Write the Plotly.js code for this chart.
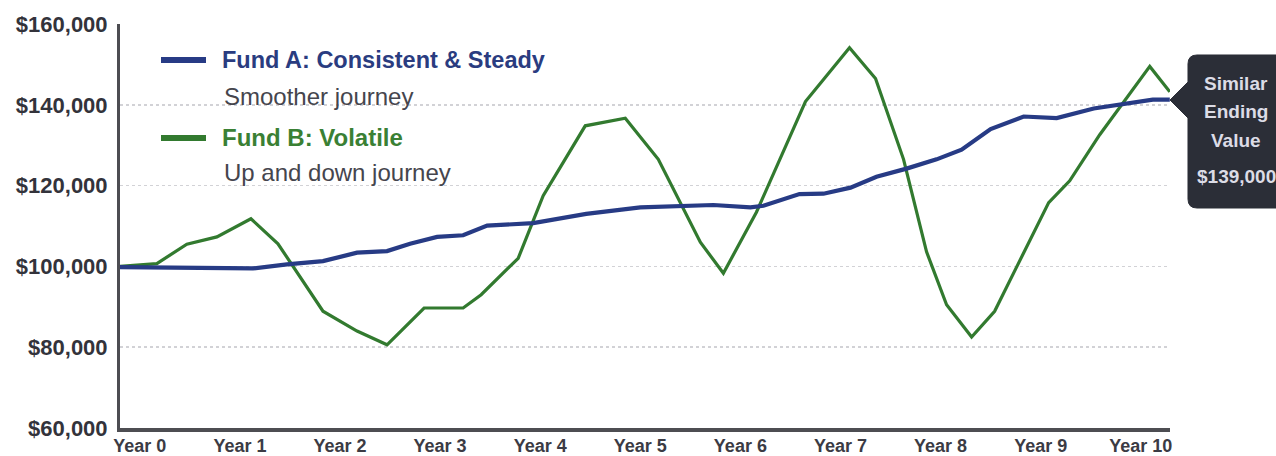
<!DOCTYPE html>
<html>
<head>
<meta charset="utf-8">
<script src="https://cdn.plot.ly/plotly-3.0.1.min.js"></script>
<style>
  html, body { margin: 0; padding: 0; background: #ffffff; }
  #chart { width: 1276px; height: 456px; }
</style>
</head>
<body>
<div id="chart"></div>
<script>
// ---- Data ----
const yearTickVals = [0, 1, 2, 3, 4, 5, 6, 7, 8, 9, 10];
const yearTickText = ["Year 0", "Year 1", "Year 2", "Year 3", "Year 4", "Year 5",
                      "Year 6", "Year 7", "Year 8", "Year 9", "Year 10"];
const valueTickVals = [60000, 80000, 100000, 120000, 140000, 160000];
const valueTickText = ["$60,000", "$80,000", "$100,000", "$120,000", "$140,000", "$160,000"];

// Fund A: Consistent & Steady
const fundAYears = [-0.20, 1.13, 1.47, 1.83, 2.17, 2.47, 2.70, 2.97, 3.23, 3.47, 3.93,
                    4.46, 5.00, 5.60, 5.73, 6.10, 6.23, 6.59, 6.83, 7.10, 7.36, 7.66,
                    7.96, 8.21, 8.50, 8.83, 9.16, 9.53, 9.79, 10.12, 10.29];
const fundAValues = [99800, 99500, 100500, 101300, 103400, 103800, 105600, 107300, 107700, 110100, 110700,
                     113000, 114600, 114900, 115200, 114600, 115000, 117900, 118000, 119500, 122200, 124200,
                     126500, 128900, 134000, 137100, 136700, 139100, 140000, 141300, 141300];

// Fund B: Volatile
const fundBYears = [-0.20, 0.17, 0.47, 0.77, 1.11, 1.38, 1.83, 2.17, 2.47, 2.84, 3.23,
                    3.41, 3.78, 4.03, 4.45, 4.85, 5.18, 5.60, 5.83, 6.16, 6.65, 7.09,
                    7.35, 7.63, 7.86, 8.06, 8.31, 8.54, 9.08, 9.29, 9.59, 10.09, 10.29];
const fundBValues = [100000, 100700, 105500, 107300, 111800, 105600, 88900, 84000, 80600, 89700, 89700,
                     93000, 102000, 117500, 134800, 136700, 126500, 106000, 98300, 113400, 140800, 154100,
                     146500, 126500, 103600, 90500, 82500, 88900, 115800, 121200, 132600, 149500, 143200];

const endingValueLabel = "$139,000";

// ---- Layout helpers (pixel -> paper) ----
const W = 1276, H = 456;
const M = { l: 120, r: 106, t: 24, b: 28 };
const PW = W - M.l - M.r, PH = H - M.t - M.b;
const px = x => (x - M.l) / PW;
const py = y => (H - M.b - y) / PH;

const blue = "#273b85";
const green = "#327a2f";
const bold = "Liberation Sans, Arial, sans-serif";
const regular = "Liberation Sans, Arial, sans-serif";

const traces = [
  {
    x: fundBYears, y: fundBValues, type: "scatter", mode: "lines",
    name: "Fund B: Volatile",
    line: { color: green, width: 3.2 },
    hoverinfo: "skip"
  },
  {
    x: fundAYears, y: fundAValues, type: "scatter", mode: "lines",
    name: "Fund A: Consistent & Steady",
    line: { color: blue, width: 4.2 },
    hoverinfo: "skip"
  }
];

// Tooltip box path (paper coords)
function tooltipPath() {
  const L = 1188, R = 1310, T = 55, B = 208, r = 9;
  const tipX = 1170, tipY = 100, pT = 82, pB = 118;
  const P = (x, y) => px(x).toFixed(5) + "," + py(y).toFixed(5);
  return "M" + P(L + r, T) +
         " L" + P(R, T) +
         " L" + P(R, B) +
         " L" + P(L + r, B) +
         " Q" + P(L, B) + " " + P(L, B - r) +
         " L" + P(L, pB) +
         " L" + P(tipX, tipY) +
         " L" + P(L, pT) +
         " L" + P(L, T + r) +
         " Q" + P(L, T) + " " + P(L + r, T) + " Z";
}

const shapes = [
  { type: "line", xref: "paper", yref: "paper", x0: px(161), x1: px(206), y0: py(60), y1: py(60),
    line: { color: blue, width: 6 } },
  { type: "line", xref: "paper", yref: "paper", x0: px(161), x1: px(206), y0: py(138), y1: py(138),
    line: { color: green, width: 6 } },
  { type: "path", xref: "paper", yref: "paper", path: tooltipPath(),
    fillcolor: "#2b2e37", line: { color: "#2b2e37", width: 1 }, layer: "above" }
];

function ann(text, xpx, ypx, font, xanchor) {
  return { text: text, xref: "paper", yref: "paper", x: px(xpx), y: py(ypx),
           xanchor: xanchor || "left", yanchor: "middle", showarrow: false,
           font: font, borderpad: 0 };
}

const tipFont = { family: bold, size: 19, color: "#dcdce6" };
const annotations = [
  ann("<b>Fund A: Consistent &amp; Steady</b>", 221, 60, { family: bold, size: 23.5, color: "#2a3c80" }),
  ann("Smoother journey", 223, 96, { family: regular, size: 24, color: "#45454d" }),
  ann("<b>Fund B: Volatile</b>", 221, 137, { family: bold, size: 24, color: "#3a8034" }),
  ann("Up and down journey", 223, 172, { family: regular, size: 24, color: "#45454d" }),
  ann("<b>Similar</b>", 1236, 83, tipFont, "center"),
  ann("<b>Ending</b>", 1236, 112, tipFont, "center"),
  ann("<b>Value</b>", 1236, 140, tipFont, "center"),
  ann("<b>" + endingValueLabel + "</b>", 1236, 176, tipFont, "center")
];

const layout = {
  width: W, height: H,
  margin: M,
  paper_bgcolor: "#ffffff", plot_bgcolor: "#ffffff",
  showlegend: false,
  xaxis: {
    range: [-0.198, 10.292],
    tickmode: "array", tickvals: yearTickVals, ticktext: yearTickText,
    showgrid: false, zeroline: false,
    showline: true, linecolor: "#4d4d52", linewidth: 3.5,
    ticks: "", ticklabelstandoff: -1,
    tickfont: { family: bold, size: 18, color: "#3b3b44", weight: "bold" },
    fixedrange: true
  },
  yaxis: {
    range: [60000, 160000],
    tickmode: "array", tickvals: valueTickVals, ticktext: valueTickText,
    showgrid: true, gridcolor: "#d2d2d6", gridwidth: 1.5, griddash: "dot",
    zeroline: false,
    showline: true, linecolor: "#4d4d52", linewidth: 3,
    ticks: "", ticklabelstandoff: 5,
    tickfont: { family: bold, size: 22, color: "#33333b", weight: "bold" },
    fixedrange: true
  },
  shapes: shapes,
  annotations: annotations
};

Plotly.newPlot("chart", traces, layout, { displayModeBar: false, staticPlot: true });
</script>
</body>
</html>
